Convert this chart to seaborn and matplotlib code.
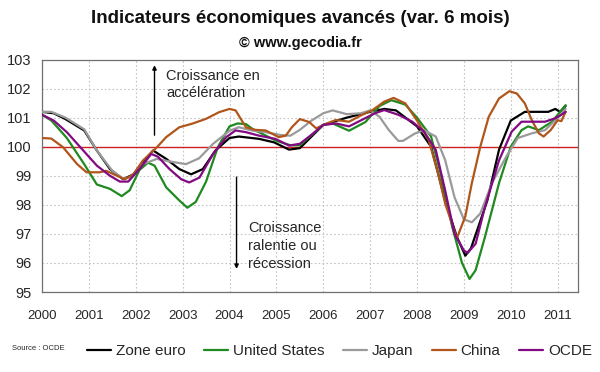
import matplotlib
matplotlib.use("Agg")
import matplotlib.pyplot as plt
import seaborn as sns
import pandas as pd

# Zone euro
ze_t = [2000.0, 2000.25, 2000.5, 2000.9, 2001.17, 2001.45, 2001.73, 2001.95, 2002.15, 2002.37,
        2002.65, 2002.93, 2003.18, 2003.43, 2003.7, 2004.0, 2004.2, 2004.63, 2004.95, 2005.27,
        2005.5, 2005.75, 2006.0, 2006.5, 2007.0, 2007.3, 2007.55, 2008.0, 2008.3, 2008.6,
        2008.85, 2009.03, 2009.15, 2009.5, 2009.75, 2010.0, 2010.3, 2010.55, 2010.8, 2010.95,
        2011.05, 2011.17]
ze_v = [101.2, 101.15, 100.95, 100.56, 99.87, 99.23, 98.88, 99.05, 99.46, 99.87,
        99.58, 99.23, 99.05, 99.23, 99.87, 100.3, 100.35, 100.27, 100.15, 99.9,
        99.95, 100.35, 100.75, 101.0, 101.2, 101.3, 101.25, 100.7, 100.0, 98.15,
        96.9, 96.25, 96.5, 98.15, 99.9, 100.9, 101.2, 101.2, 101.2, 101.3,
        101.2, 101.4]

# United States
us_t = [2000.0, 2000.2, 2000.53, 2000.9, 2001.17, 2001.45, 2001.7, 2001.87, 2002.08, 2002.26,
        2002.4, 2002.65, 2002.93, 2003.1, 2003.28, 2003.5, 2003.75, 2004.0, 2004.17, 2004.35,
        2004.5, 2005.0, 2005.3, 2005.5, 2006.0, 2006.2, 2006.55, 2006.9, 2007.2, 2007.45,
        2007.75, 2008.0, 2008.3, 2008.5, 2008.75, 2008.96, 2009.12, 2009.25, 2009.45, 2009.75,
        2010.0, 2010.23, 2010.37, 2010.6, 2010.88, 2011.17]
us_v = [101.1, 100.9, 100.3, 99.4, 98.7, 98.55, 98.3, 98.5, 99.2, 99.45,
        99.35, 98.6, 98.15, 97.9, 98.1, 98.8, 99.98, 100.7, 100.8, 100.78,
        100.6, 100.2, 100.05, 100.05, 100.75, 100.8, 100.55, 100.85, 101.4, 101.6,
        101.45, 101.0, 100.35, 99.1, 97.25, 96.0, 95.45, 95.75, 96.9, 98.75,
        100.0, 100.57, 100.7, 100.57, 100.86, 101.43]

# Japan
jp_t = [2000.0, 2000.2, 2000.5, 2000.9, 2001.17, 2001.5, 2001.73, 2001.9, 2002.15, 2002.45,
        2002.7, 2003.07, 2003.35, 2003.65, 2004.0, 2004.2, 2004.5, 2004.77, 2005.1, 2005.3,
        2005.5, 2005.75, 2006.0, 2006.2, 2006.5, 2006.8, 2007.0, 2007.2, 2007.4, 2007.6,
        2007.7, 2007.95, 2008.15, 2008.4, 2008.6, 2008.8, 2009.0, 2009.17, 2009.35, 2009.6,
        2009.9, 2010.15, 2010.45, 2010.73, 2011.0, 2011.17]
jp_v = [101.2, 101.2, 101.0, 100.6, 99.87, 99.17, 98.9, 98.95, 99.4, 99.58,
        99.5, 99.4, 99.6, 100.1, 100.55, 100.67, 100.55, 100.5, 100.4, 100.38,
        100.58, 100.9, 101.15, 101.25, 101.12, 101.15, 101.25, 101.03, 100.57, 100.2,
        100.2, 100.45, 100.57, 100.35, 99.54, 98.26, 97.5, 97.4, 97.7, 98.75,
        99.65, 100.3, 100.46, 100.57, 100.98, 101.3]

# China
cn_t = [2000.0, 2000.2, 2000.45, 2000.75, 2000.95, 2001.23, 2001.37, 2001.6, 2001.77, 2001.95,
        2002.15, 2002.45, 2002.65, 2002.93, 2003.2, 2003.5, 2003.78, 2004.0, 2004.13, 2004.35,
        2004.55, 2004.77, 2005.05, 2005.2, 2005.33, 2005.5, 2005.7, 2005.85, 2006.0, 2006.27,
        2006.55, 2006.82, 2007.05, 2007.3, 2007.5, 2007.75, 2008.0, 2008.25, 2008.45, 2008.6,
        2008.85, 2009.03, 2009.17, 2009.35, 2009.53, 2009.75, 2009.97, 2010.13, 2010.3, 2010.45,
        2010.6, 2010.7, 2010.85, 2011.0, 2011.08, 2011.17]
cn_v = [100.3, 100.28, 99.98, 99.4, 99.12, 99.12, 99.17, 99.0, 98.88, 99.05,
        99.52, 99.98, 100.33, 100.67, 100.79, 100.96, 101.19, 101.3, 101.25, 100.67,
        100.58, 100.56, 100.33, 100.38, 100.67, 100.95, 100.85, 100.63, 100.75, 100.92,
        100.86, 101.09, 101.26, 101.55, 101.68, 101.49, 100.9, 100.23, 99.08, 98.05,
        96.85, 97.6, 98.75, 100.0, 101.03, 101.66, 101.91, 101.83, 101.49, 100.91,
        100.46, 100.35, 100.57, 100.91, 100.88, 101.2]

# OCDE
oc_t = [2000.0, 2000.25, 2000.53, 2000.88, 2001.17, 2001.45, 2001.66, 2001.84, 2002.08, 2002.33,
        2002.47, 2002.72, 2002.97, 2003.14, 2003.36, 2003.65, 2003.93, 2004.13, 2004.35, 2004.63,
        2004.98, 2005.27, 2005.5, 2005.78, 2006.0, 2006.27, 2006.55, 2006.82, 2007.1, 2007.3,
        2007.6, 2007.9, 2008.15, 2008.4, 2008.6, 2008.8, 2009.0, 2009.08, 2009.25, 2009.45,
        2009.75, 2010.02, 2010.23, 2010.45, 2010.73, 2010.95, 2011.08, 2011.17]
oc_v = [101.1, 100.9, 100.5, 99.87, 99.35, 99.0, 98.8, 98.8, 99.23, 99.75,
        99.66, 99.23, 98.88, 98.77, 98.94, 99.75, 100.33, 100.56, 100.5, 100.38,
        100.27, 100.04, 100.1, 100.45, 100.75, 100.8, 100.7, 100.92, 101.15, 101.26,
        101.1, 100.86, 100.52, 99.89, 98.5, 97.0, 96.43, 96.35, 96.66, 97.93,
        99.53, 100.52, 100.86, 100.86, 100.86, 100.98, 101.1, 101.2]

years = list(range(2000, 2012))
y_ticks = list(range(95, 104))

series = [("Zone euro", ze_t, ze_v), ("United States", us_t, us_v),
          ("Japan", jp_t, jp_v), ("China", cn_t, cn_v), ("OCDE", oc_t, oc_v)]
frames = [pd.DataFrame({"date": t, "value": v, "pays": name}) for name, t, v in series]
df = pd.concat(frames, ignore_index=True)

palette = {"Zone euro": "#000000", "United States": "#1f8a1f", "Japan": "#9a9a9a",
           "China": "#b0561a", "OCDE": "#820a82"}

sns.set_style("white")
plt.rcParams["font.family"] = ["Liberation Sans", "DejaVu Sans"]

fig = plt.figure(figsize=(6, 3.72), dpi=100)
ax = fig.add_axes([0.07, 0.215, 0.893, 0.625])

sns.lineplot(data=df, x="date", y="value", hue="pays", palette=palette,
             estimator=None, sort=True, linewidth=1.6, ax=ax, zorder=3)

ax.axhline(100, color="#cc2222", linewidth=1.0, zorder=2)

ax.set_xlim(2000, 2011.43)
ax.set_ylim(95, 103)
ax.set_xticks(years)
ax.set_xticklabels([str(y) for y in years], fontsize=9.5)
ax.set_yticks(y_ticks)
ax.set_yticklabels([str(y) for y in y_ticks], fontsize=10.5)
ax.set_xlabel("")
ax.set_ylabel("")
ax.grid(True, color="#c4c4c4", linestyle=(0, (1.5, 2)), linewidth=0.8)
ax.set_axisbelow(True)
for s in ax.spines.values():
    s.set_color("#707070")
    s.set_linewidth(0.9)
ax.tick_params(axis="both", direction="out", length=4, color="#707070", width=0.9)
ax.tick_params(axis="x", pad=9)

# annotations
ax.annotate("", xy=(2002.4, 102.9), xytext=(2002.4, 100.3),
            arrowprops=dict(arrowstyle="-|>", color="black", lw=1.0, mutation_scale=6))
ax.text(2002.65, 102.68, "Croissance en\naccélération", fontsize=10.5, va="top", ha="left",
        linespacing=1.3)
ax.annotate("", xy=(2004.15, 95.7), xytext=(2004.15, 99.05),
            arrowprops=dict(arrowstyle="-|>", color="black", lw=1.0, mutation_scale=6))
ax.text(2004.4, 97.45, "Croissance\nralentie ou\nrécession", fontsize=10.5, va="top", ha="left",
        linespacing=1.35)

leg = ax.legend(loc="upper center", bbox_to_anchor=(0.555, -0.165), ncol=5, frameon=False,
                fontsize=11, handlelength=1.6, handletextpad=0.3, columnspacing=1.2)
for line in leg.get_lines():
    line.set_linewidth(1.6)

fig.text(0.02, 0.062, "Source : OCDE", fontsize=5.5, va="center")
fig.text(0.5, 0.95, "Indicateurs économiques avancés (var. 6 mois)", fontsize=13.5,
         fontweight="bold", ha="center", va="center", color="#111111")
fig.text(0.5, 0.885, "© www.gecodia.fr", fontsize=10.5, fontweight="bold",
         ha="center", va="center", color="#111111")

fig.savefig("out.png", dpi=100)
